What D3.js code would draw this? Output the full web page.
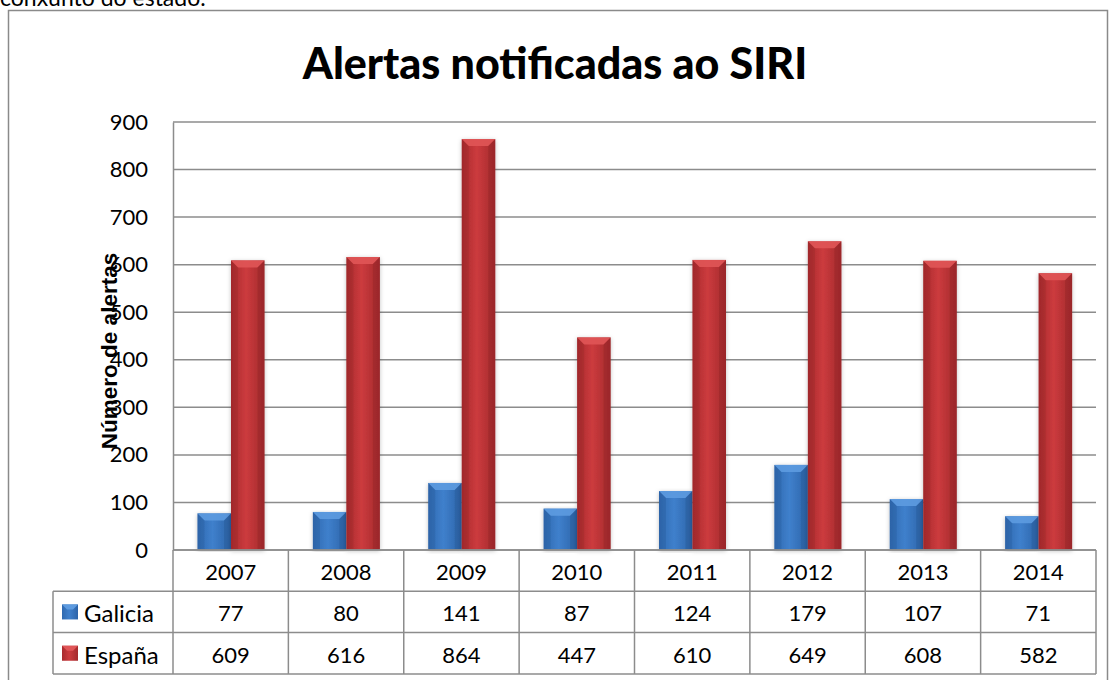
<!DOCTYPE html>
<html><head><meta charset="utf-8">
<script src="https://cdn.jsdelivr.net/npm/d3@7"></script>
<style>body{margin:0;background:#fff;overflow:hidden}svg{display:block}</style>
</head><body>
<script>
const years = ["2007","2008","2009","2010","2011","2012","2013","2014"];
const galicia = [77, 80, 141, 87, 124, 179, 107, 71];
const espana = [609, 616, 864, 447, 610, 649, 608, 582];
const seriesNames = ["Galicia", "España"];
const yTicks = [0,100,200,300,400,500,600,700,800,900];

const W = 1113, H = 680;
const font = "Lato, 'Open Sans', sans-serif";
const svg = d3.select("body").append("svg").attr("width", W).attr("height", H);

const defs = svg.append("defs");
function grad(id, c0, c1, c2) {
  const g = defs.append("linearGradient").attr("id", id).attr("x1", 0).attr("x2", 1).attr("y1", 0).attr("y2", 0);
  g.append("stop").attr("offset", "0%").attr("stop-color", c0);
  g.append("stop").attr("offset", "45%").attr("stop-color", c1);
  g.append("stop").attr("offset", "100%").attr("stop-color", c2);
}
grad("gB", "#2f69b0", "#3f80cc", "#2c63a8");
grad("gR", "#a82a2d", "#cc3b3e", "#a3292c");
const sh = defs.append("filter").attr("id", "sh").attr("x", "-30%").attr("y", "-5%").attr("width", "160%").attr("height", "110%");
sh.append("feDropShadow").attr("dx", 0).attr("dy", 1).attr("stdDeviation", 2).attr("flood-color", "#000").attr("flood-opacity", 0.25);

// caption text cut at top (as in the reference)
svg.append("text").attr("x", 0).attr("y", 6).attr("font-family", font).attr("font-size", 23).attr("fill", "#000").text("conxunto do estado.");

// outer border
svg.append("rect").attr("x", 8.5).attr("y", 10.5).attr("width", 1099).attr("height", 700)
  .attr("fill", "none").attr("stroke", "#8a8a8a").attr("stroke-width", 1.5);

// title
svg.append("text").attr("x", 555).attr("y", 79).attr("text-anchor", "middle")
  .attr("font-family", font).attr("font-weight", "900").attr("font-size", 43).text("Alertas notificadas ao SIRI");

const pLeft = 173, pRight = 1096, pTop = 122, pBottom = 550;
const x = d3.scaleBand().domain(years).range([pLeft, pRight]);
const y = d3.scaleLinear().domain([0, 900]).range([pBottom, pTop]);

// gridlines
svg.append("g").selectAll("line").data(yTicks.slice(1)).join("line")
  .attr("x1", pLeft).attr("x2", pRight).attr("y1", d => y(d)).attr("y2", d => y(d))
  .attr("stroke", "#8c8c8c").attr("stroke-width", 1.5);

// y axis
const yAxis = d3.axisLeft(y).tickValues(yTicks).tickSize(0).tickPadding(25);
const ga = svg.append("g").attr("transform", `translate(${pLeft},0)`).call(yAxis);
ga.select(".domain").attr("stroke", "#8c8c8c").attr("stroke-width", 1.5);
ga.selectAll("text").attr("font-family", font).attr("font-size", 22).attr("fill", "#000");

// y title
svg.append("text").attr("transform", "translate(117,351) rotate(-90)").attr("text-anchor", "middle")
  .attr("font-family", "'Liberation Sans', Arial, sans-serif").attr("font-weight", "bold").attr("font-size", 22.5).text("Número de alertas");

// bars
const bw = 33.5, off = 24.5;
const series = [
  {name: seriesNames[0], vals: galicia, fill: "url(#gB)", light: "#5d9be0", dark: "#24558f", dx: 0},
  {name: seriesNames[1], vals: espana, fill: "url(#gR)", light: "#e05557", dark: "#8c2225", dx: bw}
];
const bars = svg.append("g");
series.forEach(s => {
  const g = bars.append("g");
  years.forEach((yr, i) => {
    const x0 = x(yr) + off + s.dx, y0 = y(s.vals[i]), h = pBottom - y0;
    const b = g.append("g");
    b.append("rect").attr("x", x0).attr("y", y0).attr("width", bw).attr("height", h)
      .attr("fill", s.fill).attr("filter", "url(#sh)");
    const bv = Math.min(7, h / 2);
    b.append("polygon").attr("points", `${x0},${y0} ${x0+bw},${y0} ${x0+bw-bv},${y0+bv} ${x0+bv},${y0+bv}`)
      .attr("fill", s.light).attr("opacity", 0.9);
    b.append("polygon").attr("points", `${x0},${y0} ${x0+bv},${y0+bv} ${x0+bv},${y0+h} ${x0},${y0+h}`)
      .attr("fill", s.dark).attr("opacity", 0.25);
    b.append("polygon").attr("points", `${x0+bw},${y0} ${x0+bw-bv},${y0+bv} ${x0+bw-bv},${y0+h} ${x0+bw},${y0+h}`)
      .attr("fill", s.dark).attr("opacity", 0.35);
  });
});

// baseline
svg.append("line").attr("x1", pLeft).attr("x2", pRight).attr("y1", pBottom).attr("y2", pBottom)
  .attr("stroke", "#8c8c8c").attr("stroke-width", 1.5);

// data table
const rowH = 41.3, legLeft = 53;
const tg = svg.append("g");
const stroke = "#8c8c8c";
const rows = [pBottom, pBottom + rowH, pBottom + 2*rowH, pBottom + 3*rowH];
tg.append("line").attr("x1", pLeft).attr("x2", pRight).attr("y1", rows[0]).attr("y2", rows[0]).attr("stroke", stroke).attr("stroke-width", 1.5);
[1,2,3].forEach(k => tg.append("line").attr("x1", legLeft).attr("x2", pRight).attr("y1", rows[k]).attr("y2", rows[k]).attr("stroke", stroke).attr("stroke-width", 1.5));
years.forEach(yr => tg.append("line").attr("x1", x(yr)).attr("x2", x(yr)).attr("y1", rows[0]).attr("y2", rows[3]).attr("stroke", stroke).attr("stroke-width", 1.5));
tg.append("line").attr("x1", pRight).attr("x2", pRight).attr("y1", rows[0]).attr("y2", rows[3]).attr("stroke", stroke).attr("stroke-width", 1.5);
tg.append("line").attr("x1", legLeft).attr("x2", legLeft).attr("y1", rows[1]).attr("y2", rows[3]).attr("stroke", stroke).attr("stroke-width", 1.5);

const txt = (xx, yy, t, anchor, fs) => tg.append("text").attr("x", xx).attr("y", yy).attr("text-anchor", anchor || "middle")
  .attr("dominant-baseline", "central").attr("font-family", font).attr("font-size", fs || 22).attr("fill", "#000").text(t);
years.forEach((yr, i) => {
  const cx = x(yr) + x.bandwidth() / 2;
  txt(cx, rows[0] + rowH/2 + 1, yr);
  txt(cx, rows[1] + rowH/2 + 1, galicia[i]);
  txt(cx, rows[2] + rowH/2 + 1, espana[i]);
});
series.forEach((s, k) => {
  const ry = rows[k+1] + rowH/2;
  tg.append("rect").attr("x", 62).attr("y", ry - 7.5).attr("width", 16).attr("height", 15).attr("fill", s.fill);
  tg.append("polygon").attr("points", `62,${ry-7.5} 78,${ry-7.5} 73,${ry-2.5} 67,${ry-2.5}`).attr("fill", s.light);
  txt(84, ry + 1, s.name, "start", 24);
});
</script>
</body></html>
